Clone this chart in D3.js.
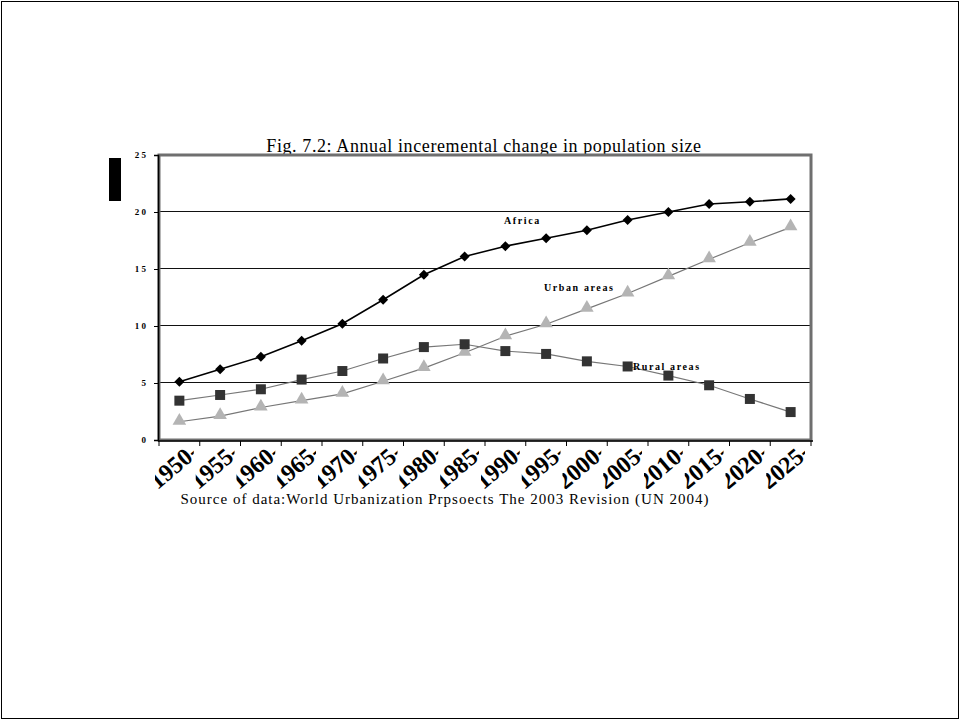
<!DOCTYPE html>
<html>
<head>
<meta charset="utf-8">
<script src="https://cdn.jsdelivr.net/npm/d3@7"></script>
<style>
  html, body { margin: 0; padding: 0; background: #fff; }
  svg { display: block; }
</style>
</head>
<body>
<svg id="chart" width="961" height="721"></svg>
<script>
// Five-year periods 1950-1955 … 2025-2030
const periods = ["1950-1955","1955-1960","1960-1965","1965-1970","1970-1975","1975-1980",
  "1980-1985","1985-1990","1990-1995","1995-2000","2000-2005","2005-2010",
  "2010-2015","2015-2020","2020-2025","2025-2030"];

// Annual incremental change (millions)
const africa = [5.1, 6.2, 7.3, 8.7, 10.2, 12.3, 14.5, 16.1, 17.0, 17.7, 18.4, 19.3, 20.0, 20.7, 20.9, 21.15];
const urban  = [1.6, 2.1, 2.85, 3.45, 4.05, 5.15, 6.3, 7.65, 9.1, 10.15, 11.5, 12.85, 14.35, 15.85, 17.3, 18.65];
const rural  = [3.45, 3.95, 4.45, 5.3, 6.05, 7.15, 8.15, 8.4, 7.8, 7.55, 6.9, 6.45, 5.65, 4.8, 3.6, 2.45];

const yTicks = [0, 5, 10, 15, 20, 25];

const svg = d3.select("#chart");
const serif = "Liberation Serif, Times New Roman, serif";

// page frame
svg.append("rect").attr("x", 1.5).attr("y", 1.5).attr("width", 957).attr("height", 717)
  .attr("fill", "none").attr("stroke", "#000").attr("stroke-width", 1);

const plot = { left: 159, right: 811, top: 155, bottom: 440 };

const x = d3.scaleBand().domain(periods).range([plot.left, plot.right]);
const y = d3.scaleLinear().domain([0, 25]).range([plot.bottom, plot.top]);

// title
svg.append("text")
  .attr("x", 484).attr("y", 152)
  .attr("text-anchor", "middle")
  .attr("font-family", serif)
  .attr("font-size", 18)
  .attr("letter-spacing", 0.6)
  .text("Fig. 7.2: Annual inceremental change in population size");

// black block left of the axis
svg.append("rect").attr("x", 109).attr("y", 158).attr("width", 12).attr("height", 43).attr("fill", "#000");

// gridlines
svg.append("g").selectAll("line")
  .data(yTicks.filter(d => d > 0 && d < 25))
  .join("line")
  .attr("x1", plot.left).attr("x2", plot.right)
  .attr("y1", d => Math.round(y(d)) - 0.5).attr("y2", d => Math.round(y(d)) - 0.5)
  .attr("stroke", "#111").attr("stroke-width", 1);

// plot frame (grey border)
svg.append("rect")
  .attr("x", plot.left).attr("y", plot.top)
  .attr("width", plot.right - plot.left).attr("height", plot.bottom - plot.top)
  .attr("fill", "none").attr("stroke", "#6f6f6f").attr("stroke-width", 3);

// y axis
const yAxis = svg.append("g")
  .attr("transform", `translate(${plot.left - 1},0)`)
  .call(d3.axisLeft(y).tickValues(yTicks).tickSize(4).tickPadding(8)
    .tickFormat(d => String(d).split("").join(" ")));
yAxis.select(".domain").attr("stroke", "#000").attr("stroke-width", 1.5);
yAxis.selectAll(".tick line").attr("stroke", "#000");
yAxis.selectAll("text")
  .attr("font-family", serif)
  .attr("font-weight", "bold").attr("font-size", 9).attr("fill", "#000");

// x axis: ticks on category boundaries
const xAxisG = svg.append("g").attr("transform", `translate(0,${plot.bottom + 1})`);
xAxisG.append("line").attr("x1", plot.left - 1).attr("x2", plot.right + 2)
  .attr("y1", 0).attr("y2", 0).attr("stroke", "#000").attr("stroke-width", 1.5);
xAxisG.selectAll("line.tick")
  .data(periods.map(p => x(p)).concat([x(periods[periods.length - 1]) + x.bandwidth()]))
  .join("line").attr("class", "tick")
  .attr("x1", d => d).attr("x2", d => d)
  .attr("y1", 0).attr("y2", 5).attr("stroke", "#000").attr("stroke-width", 1);

// rotated period labels, each cropped to its own cell under the axis
const defs = svg.append("defs");
periods.forEach((p, i) => {
  defs.append("clipPath").attr("id", "xl" + i)
    .append("rect").attr("x", x(p) - 4).attr("y", 447)
    .attr("width", x.bandwidth() - 2).attr("height", 42);
});
svg.append("g").selectAll("g").data(periods).join("g")
  .attr("clip-path", (d, i) => `url(#xl${i})`)
  .append("text")
  .attr("transform", d => `translate(${x(d) + x.bandwidth() / 2 - 4},${468}) rotate(-40)`)
  .attr("text-anchor", "middle")
  .attr("dominant-baseline", "middle")
  .attr("dx", 24)
  .attr("font-family", serif)
  .attr("font-weight", "bold")
  .attr("font-size", 24)
  .attr("fill", "#000")
  .text(d => d);

// source note
svg.append("text")
  .attr("x", 445).attr("y", 504)
  .attr("text-anchor", "middle")
  .attr("font-family", serif)
  .attr("font-size", 15)
  .attr("letter-spacing", 1)
  .text("Source of data:World Urbanization Prpsoects The 2003 Revision (UN 2004)");

const cx = (d, i) => x(periods[i]) + x.bandwidth() / 2;
const line = d3.line().x((d, i) => cx(d, i)).y(d => y(d));

// Rural areas
svg.append("path").datum(rural).attr("d", line)
  .attr("fill", "none").attr("stroke", "#777").attr("stroke-width", 1.2);
// Urban areas
svg.append("path").datum(urban).attr("d", line)
  .attr("fill", "none").attr("stroke", "#777").attr("stroke-width", 1.2);
// Africa
svg.append("path").datum(africa).attr("d", line)
  .attr("fill", "none").attr("stroke", "#000").attr("stroke-width", 1.6);

const sym = (type, size) => d3.symbol().type(type).size(size)();

svg.append("g").selectAll("path").data(urban).join("path")
  .attr("transform", (d, i) => `translate(${cx(d, i)},${y(d) - 1})`)
  .attr("d", sym(d3.symbolTriangle, 80))
  .attr("fill", "#b4b4b4");

svg.append("g").selectAll("path").data(rural).join("path")
  .attr("transform", (d, i) => `translate(${cx(d, i)},${y(d)})`)
  .attr("d", sym(d3.symbolSquare, 100))
  .attr("fill", "#333");

svg.append("g").selectAll("path").data(africa).join("path")
  .attr("transform", (d, i) => `translate(${cx(d, i)},${y(d)}) rotate(45)`)
  .attr("d", sym(d3.symbolSquare, 50))
  .attr("fill", "#000");

// series labels
const seriesLabels = [
  { text: "Africa", x: 504, y: 224 },
  { text: "Urban areas", x: 544, y: 291 },
  { text: "Rural areas", x: 633, y: 370 }
];
svg.append("g").selectAll("text").data(seriesLabels).join("text")
  .attr("x", d => d.x).attr("y", d => d.y)
  .attr("font-family", serif)
  .attr("font-weight", "bold").attr("font-size", 10)
  .attr("letter-spacing", 1.6)
  .text(d => d.text);
</script>
</body>
</html>
